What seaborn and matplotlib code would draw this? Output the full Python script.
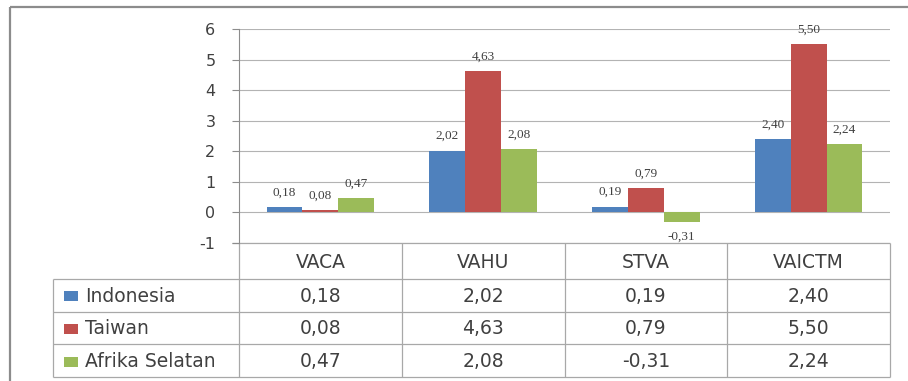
import numpy as np
import pandas as pd
import matplotlib
matplotlib.use("Agg")
import matplotlib.pyplot as plt
import seaborn as sns
from matplotlib.patches import Rectangle

# ---- data ----
categories = ["VACA", "VAHU", "STVA", "VAICTM"]
series_names = ["Indonesia", "Taiwan", "Afrika Selatan"]
indonesia = [0.18, 2.02, 0.19, 2.40]
taiwan = [0.08, 4.63, 0.79, 5.50]
afrika_selatan = [0.47, 2.08, -0.31, 2.24]
y_ticks = [-1, 0, 1, 2, 3, 4, 5, 6]

series_values = [indonesia, taiwan, afrika_selatan]
colors = ["#4F81BD", "#C0504D", "#9BBB59"]


def fmt(v):
    return f"{v:.2f}".replace(".", ",")


W, H = 908, 381
sns.set_theme(style="white")
plt.rcParams["font.family"] = ["DejaVu Sans"]

fig = plt.figure(figsize=(W / 100, H / 100), dpi=100, facecolor="white")

# plot area in pixel units
ax_left, ax_right, ax_top, ax_bot = 239, 890, 29, 243
ax = fig.add_axes([ax_left / W, 1 - ax_bot / H,
                   (ax_right - ax_left) / W, (ax_bot - ax_top) / H])

df = pd.DataFrame({
    "category": categories * len(series_names),
    "series": np.repeat(series_names, len(categories)),
    "value": indonesia + taiwan + afrika_selatan,
})
sns.barplot(data=df, x="category", y="value", hue="series",
            order=categories, hue_order=series_names, palette=colors,
            width=0.66, saturation=1, errorbar=None, linewidth=0,
            legend=False, ax=ax)

ax.set_xlim(-0.5, len(categories) - 0.5)
ax.set_ylim(-1, 6)
ax.set_yticks(y_ticks)
ax.set_yticklabels([str(t) for t in y_ticks])
ax.set_xticks([])
ax.set_xlabel("")
ax.set_ylabel("")
ax.yaxis.grid(True, color="#b3b3b3", linewidth=0.8)
ax.set_axisbelow(True)
for side in ("top", "right", "bottom"):
    ax.spines[side].set_visible(False)
ax.spines["left"].set_color("#8c8c8c")
ax.spines["left"].set_linewidth(0.8)
ax.tick_params(axis="y", left=True, direction="out", length=5, width=0.8,
               color="#8c8c8c", pad=12, labelsize=11.5, labelcolor="#404040")
ax.patch.set_alpha(0)

# value labels above / below each bar
for container, vals in zip(ax.containers, series_values):
    for bar, v in zip(container, vals):
        xc = bar.get_x() + bar.get_width() / 2
        ax.annotate(fmt(v), (xc, v), xytext=(0, 10.5 if v >= 0 else -11),
                    textcoords="offset points", ha="center", va="center",
                    fontsize=9.5, family="Liberation Serif", color="#404040")

# ---- data table below the plot, drawn in pixel coordinates ----
tab = fig.add_axes([0, 0, 1, 1], zorder=-1)
tab.set_xlim(0, W)
tab.set_ylim(H, 0)
tab.axis("off")

line_kw = dict(color="#a8a8a8", linewidth=0.9, solid_capstyle="butt")
n = len(categories)
col_w = (ax_right - ax_left) / n
col_edges = [ax_left + k * col_w for k in range(n + 1)]
row_edges = [243, 279, 311.5, 344, 377]
legend_left = 53

for x in col_edges:
    tab.plot([x, x], [row_edges[0], row_edges[-1]], **line_kw)
tab.plot([ax_left - 7, ax_right], [row_edges[0], row_edges[0]], **line_kw)
for y in row_edges[1:]:
    tab.plot([legend_left, ax_right], [y, y], **line_kw)
tab.plot([legend_left, legend_left], [row_edges[1], row_edges[-1]], **line_kw)

text_kw = dict(fontsize=13.5, color="#404040", va="center")
header_y = (row_edges[0] + row_edges[1]) / 2
for k, cat in enumerate(categories):
    tab.text((col_edges[k] + col_edges[k + 1]) / 2, header_y + 1, cat,
             ha="center", **text_kw)

for r, (name, vals, c) in enumerate(zip(series_names, series_values, colors)):
    yc = (row_edges[r + 1] + row_edges[r + 2]) / 2 + 1
    tab.add_patch(Rectangle((64, yc - 5), 14, 10, facecolor=c,
                            edgecolor="none"))
    tab.text(85, yc, name, ha="left", **text_kw)
    for k, v in enumerate(vals):
        tab.text((col_edges[k] + col_edges[k + 1]) / 2, yc, fmt(v),
                 ha="center", **text_kw)

# outer chart frame
frame_kw = dict(color="#8c8c8c", linewidth=1.6, solid_capstyle="butt")
tab.plot([10, 10], [7, H + 2], **frame_kw)
tab.plot([10, W + 2], [7, 7], **frame_kw)

fig.savefig("out.png", dpi=100, facecolor="white")
